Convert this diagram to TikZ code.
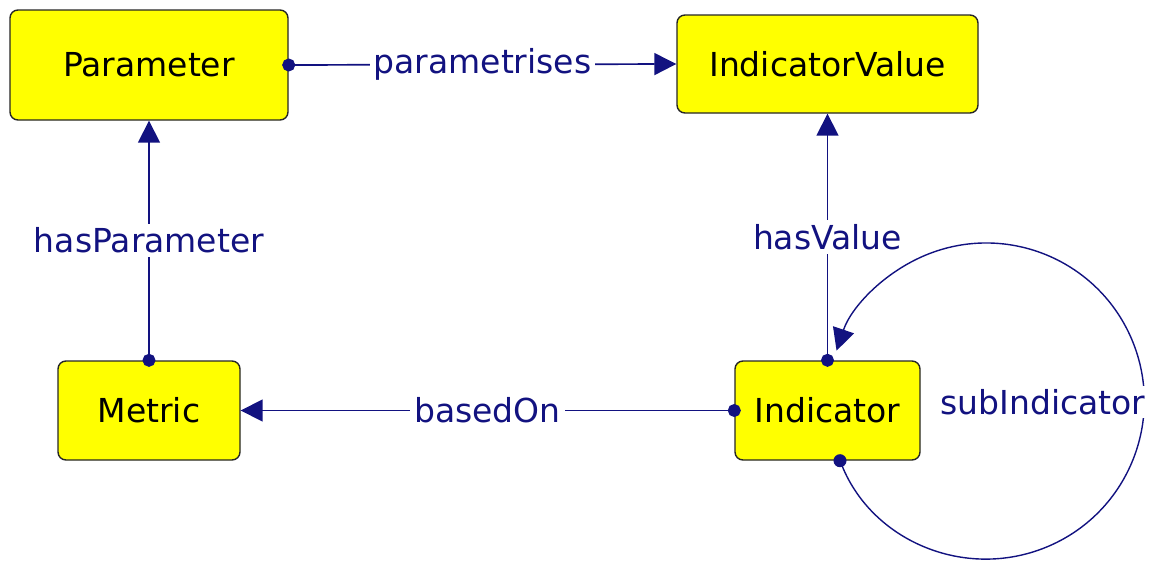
\documentclass[tikz,border=0pt]{standalone}
\usepackage{fontspec}
\setmainfont{DejaVu Sans}
\usepackage{tikz}
\usetikzlibrary{arrows.meta,positioning,calc}
\definecolor{relblue}{RGB}{18,18,128}
\definecolor{clsyellow}{RGB}{255,255,0}

\begin{document}
\begin{tikzpicture}[
  x=0.5pt, y=-0.5pt,
  cls/.style={draw=black!85, fill=clsyellow, line width=0.7pt, rounded corners=4pt, inner sep=0pt, align=center, font=\fontsize{16.5}{19}\selectfont},
  rel/.style={draw=relblue, line width=0.85pt, {Circle[length=6.5pt]}-{Triangle[length=11pt,width=11pt]}, shorten <=-3.25pt},
  lbl/.style={fill=white, text=relblue, inner sep=2pt, font=\fontsize{16.5}{19}\selectfont}
]
  \useasboundingbox (0,0) rectangle (1157,562);

  % Classes
  \node[cls, minimum width=139pt, minimum height=55pt] (param) at (149,65) {Parameter};
  \node[cls, minimum width=150.5pt, minimum height=49pt] (indval) at (827.5,64) {IndicatorValue};
  \node[cls, minimum width=91pt, minimum height=49.5pt] (metric) at (149,410.5) {Metric};
  \node[cls, minimum width=92.5pt, minimum height=49.5pt] (ind) at (827.5,410.5) {Indicator};

  % Properties
  \draw[rel] (param.east) -- node[lbl] {parametrises} (indval.west);
  \draw[rel] (metric.north) -- node[lbl] {hasParameter} (param.south);
  \draw[rel] (ind.north) -- node[lbl] {hasValue} (indval.south);
  \draw[rel] (ind.west) -- node[lbl] {basedOn} (metric.east);

  % Self loop
  \draw[rel, line width=0.7pt] ([xshift=6.25pt]ind.south) arc[start angle=202.2, end angle=521.4, radius=79pt];
  \node[lbl, inner sep=1.5pt] (sublbl) at (1043,402) {subIndicator};
\end{tikzpicture}
\end{document}
